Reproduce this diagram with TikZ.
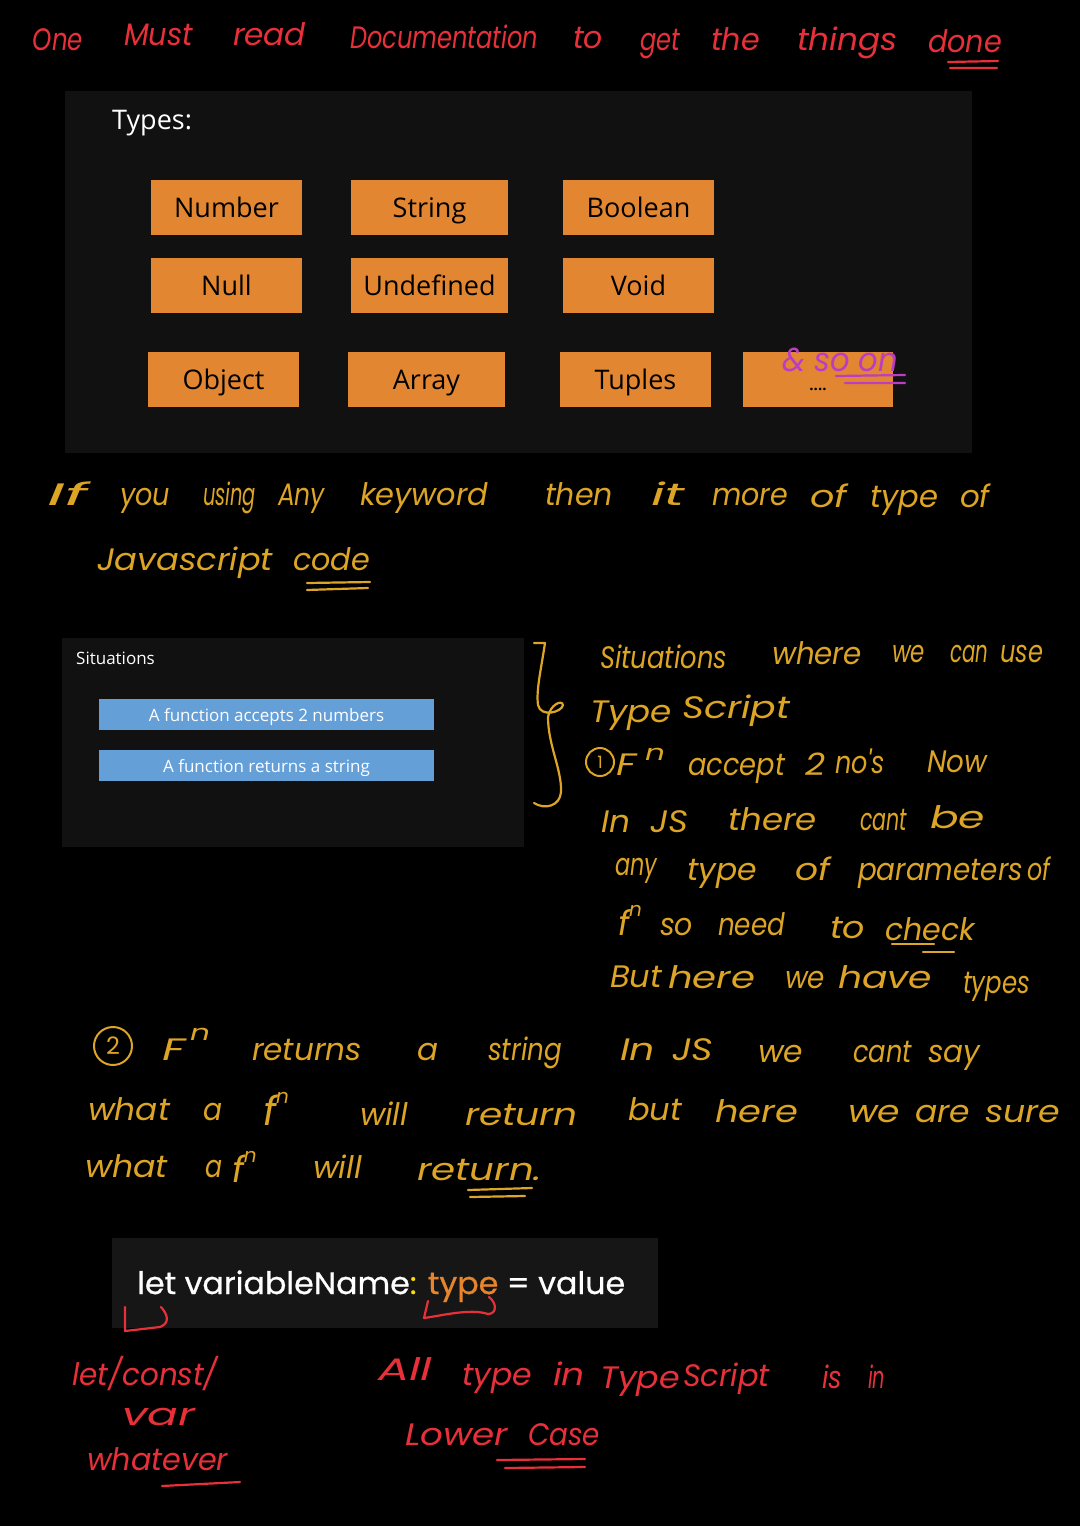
\documentclass[tikz,border=0pt]{standalone}
\usepackage{fontspec}
\usepackage{graphicx}
\setmainfont{Open Sans}
\newfontfamily\handfont{Poppins}
\newfontfamily\codefont{Poppins}[FakeBold=0.7]
\definecolor{inkred}{HTML}{E8303A}
\definecolor{inkyel}{HTML}{DDA526}
\definecolor{inkmag}{HTML}{BC3CC4}
\definecolor{panel}{HTML}{111111}
\definecolor{codebg}{HTML}{161616}
\definecolor{boxor}{HTML}{E38631}
\definecolor{boxbl}{HTML}{659FD8}
\newcounter{wordno}
% \Wz{size}{colour}{left x}{baseline y}{width}{text}
\newcommand{\Wz}[6]{\stepcounter{wordno}\node[word,text=#2] (w\arabic{wordno}) at (#3,#4)
  {\resizebox{#5pt}{\height}{\handfont\itshape\fontsize{#1}{#1}\selectfont #6}};}
\newcommand{\W}{\Wz{31}}
\newcommand{\fnW}[5]{\stepcounter{wordno}\node[word,text=#1] (w\arabic{wordno}) at (#2,#3)
  {\handfont\itshape\fontsize{#5}{#5}\selectfont f\raisebox{0.55em}{\fontsize{20}{20}\selectfont n}};}
\tikzset{
  word/.style={anchor=base west,inner sep=0pt,outer sep=0pt},
  ink/.style={line width=2.2pt,line cap=round,line join=round},
  panelbox/.style={fill=panel,draw=none},
  typebox/.style={fill=boxor,draw=none,text=black,inner sep=0pt,text height=25pt,text depth=6pt,font=\fontsize{27}{27}\selectfont},
  sitbox/.style={fill=boxbl,draw=none,text=white,inner sep=0pt,minimum width=335pt,minimum height=31pt,text height=18pt,text depth=4pt,font=\fontsize{17}{18}\selectfont},
}
\begin{document}
\begin{tikzpicture}[x=1pt,y=-1pt]
\fill[black] (0,0) rectangle (1080,1526);
\useasboundingbox (0,0) rectangle (1080,1526);
% panels
\node[panelbox,anchor=north west,minimum width=907pt,minimum height=362pt,inner sep=0pt] (typespanel) at (65,91) {};
\node[panelbox,anchor=north west,minimum width=462pt,minimum height=209pt,inner sep=0pt] (sitpanel) at (62,638) {};
\node[panelbox,anchor=north west,minimum width=546pt,minimum height=90pt,inner sep=0pt,fill=codebg] (codepanel) at (112,1238) {};
% types
\node[anchor=base west,text=white,inner sep=0pt,font=\fontsize{27}{27}\selectfont] (typeslabel) at (112,129) {Types:};
\foreach \n/\cx/\cy/\w/\t in {
  a/226.5/207.5/151/Number, b/429.5/207.5/157/String, c/638.5/207.5/151/Boolean,
  d/226.5/285.5/151/Null, e/429.5/285.5/157/Undefined, f/638.5/285.5/151/Void,
  g/223.5/379.5/151/Object, h/426.5/379.5/157/Array, i/635.5/379.5/151/Tuples}
  \node[typebox,minimum width=\w pt,minimum height=55pt] (\n) at (\cx,\cy) {\t};
\node[typebox,minimum width=150pt,minimum height=55pt,text height=0pt,text depth=0pt] (dots) at (818,379.5) {};
\node[text=black,inner sep=0pt,font=\bfseries\fontsize{15}{15}\selectfont,anchor=base] (dotstext) at (818,390) {....};
% situations
\node[anchor=base west,text=white,inner sep=0pt,font=\fontsize{17}{18}\selectfont] (sitlabel) at (76,664) {Situations};
\node[sitbox] (s1) at (266.5,714) {A function accepts 2 numbers};
\node[sitbox] (s2) at (266.5,765) {A function returns a string};
% code
\node[anchor=base west,text=white,inner sep=0pt,font=\codefont\fontsize{31}{31}\selectfont] (code) at (137,1294)
  {\resizebox{488pt}{\height}{let variableName\textcolor{yellow!80!orange}{:} \textcolor{boxor!90!orange}{type} = value}};
% heading
\W{inkred}{33}{50}{50}{One}
\W{inkred}{124}{45}{69}{Must}
\W{inkred}{233}{45}{73}{read}
\W{inkred}{350}{48}{188}{Documentation}
\W{inkred}{573}{48}{30}{to}
\W{inkred}{640}{50}{40}{get}
\W{inkred}{711}{50}{49}{the}
\W{inkred}{797}{50}{101}{things}
\W{inkred}{928}{52}{74}{done}
\draw[ink,inkred] (948,62) -- (998,61) (950,68) -- (997,68);
% & so on
\Wz{33}{inkmag}{782}{371}{116}{\& so on}
\draw[ink,inkmag] (836,376) -- (905,375) (845,383) -- (905,383);
% if you
\W{inkyel}{47}{505}{41}{If}
\W{inkyel}{120}{505}{50}{you}
\W{inkyel}{203}{505}{53}{using}
\W{inkyel}{278}{505}{47}{Any}
\W{inkyel}{360}{505}{128}{keyword}
\W{inkyel}{545}{505}{68}{then}
\W{inkyel}{651}{505}{34}{it}
\W{inkyel}{712}{505}{76}{more}
\W{inkyel}{810}{507}{37}{of}
\W{inkyel}{870}{507}{68}{type}
\W{inkyel}{960}{507}{30}{of}
\W{inkyel}{97}{570}{176}{Javascript}
\W{inkyel}{293}{570}{77}{code}
\draw[ink,inkyel] (307,583) -- (370,582) (307,590) -- (368,588);
% bracket
\draw[ink,inkyel] (534,643) -- (545,643) .. controls (541,670) and (536,690) .. (538,705)
  .. controls (541,718) and (562,712) .. (563,705) .. controls (562,699) and (550,705) .. (548,717)
  .. controls (548,745) and (562,770) .. (561,792) .. controls (560,806) and (545,810) .. (534,803);
% situations text
\W{inkyel}{600}{668}{127}{Situations}
\W{inkyel}{772}{664}{90}{where}
\W{inkyel}{892}{662}{33}{we}
\W{inkyel}{950}{662}{38}{can}
\W{inkyel}{1000}{662}{43}{use}
\W{inkyel}{590}{722}{82}{Type}
\W{inkyel}{682}{718}{108}{Script}
\node[draw=inkyel,line width=2pt,circle,minimum size=28pt,inner sep=0pt,text=inkyel,font=\handfont\fontsize{17}{17}\selectfont] (one) at (600,762) {1};
\W{inkyel}{616}{775}{20}{F}
\Wz{22}{inkyel}{645}{760}{20}{n}
\W{inkyel}{688}{775}{97}{accept}
\W{inkyel}{805}{775}{20}{2}
\W{inkyel}{835}{773}{50}{no's}
\W{inkyel}{927}{772}{60}{Now}
\W{inkyel}{601}{832}{29}{In}
\W{inkyel}{650}{832}{38}{JS}
\W{inkyel}{728}{830}{89}{there}
\W{inkyel}{860}{830}{47}{cant}
\W{inkyel}{930}{828}{55}{be}
\W{inkyel}{615}{875}{42}{any}
\W{inkyel}{687}{880}{70}{type}
\W{inkyel}{795}{880}{35}{of}
\W{inkyel}{858}{880}{165}{parameters}
\W{inkyel}{1027}{880}{23}{of}
\fnW{inkyel}{618}{935}{}{34}
\W{inkyel}{660}{935}{33}{so}
\W{inkyel}{718}{935}{67}{need}
\W{inkyel}{830}{938}{35}{to}
\W{inkyel}{885}{940}{90}{check}
\draw[ink,inkyel] (892,944) -- (934,944) (923,952) -- (954,952);
\W{inkyel}{610}{987}{52}{But}
\W{inkyel}{668}{988}{87}{here}
\W{inkyel}{785}{988}{40}{we}
\W{inkyel}{838}{988}{94}{have}
\W{inkyel}{963}{993}{67}{types}
% second block
\node[draw=inkyel,line width=2pt,circle,minimum size=38pt,inner sep=0pt,text=inkyel,font=\handfont\fontsize{24}{24}\selectfont] (two) at (113,1046) {2};
\W{inkyel}{162}{1060}{23}{F}
\Wz{22}{inkyel}{190}{1040}{20}{n}
\W{inkyel}{252}{1060}{110}{returns}
\W{inkyel}{417}{1060}{21}{a}
\W{inkyel}{488}{1060}{74}{string}
\W{inkyel}{620}{1060}{35}{In}
\W{inkyel}{672}{1060}{41}{JS}
\W{inkyel}{758}{1062}{45}{we}
\W{inkyel}{853}{1062}{59}{cant}
\W{inkyel}{928}{1062}{52}{say}
\W{inkyel}{88}{1120}{82}{what}
\W{inkyel}{203}{1120}{19}{a}
\fnW{inkyel}{263}{1125}{}{40}
\W{inkyel}{360}{1125}{48}{will}
\W{inkyel}{465}{1125}{113}{return}
\W{inkyel}{628}{1120}{54}{but}
\W{inkyel}{715}{1122}{83}{here}
\W{inkyel}{848}{1122}{52}{we}
\W{inkyel}{915}{1122}{55}{are}
\W{inkyel}{985}{1122}{75}{sure}
\W{inkyel}{85}{1177}{83}{what}
\W{inkyel}{205}{1177}{17}{a}
\fnW{inkyel}{232}{1182}{}{36}
\W{inkyel}{313}{1178}{49}{will}
\W{inkyel}{417}{1180}{125}{return.}
\draw[ink,inkyel] (468,1190) -- (532,1188) (470,1197) -- (525,1196);
% red notes
\draw[ink,inkred] (125,1307) -- (125,1331) -- (160,1327) .. controls (170,1323) and (168,1315) .. (161,1307);
\draw[ink,inkred] (428,1301) -- (424,1318) .. controls (440,1316) and (470,1308) .. (488,1314) .. controls (497,1314) and (497,1303) .. (489,1297);
\W{inkred}{72}{1385}{146}{let/const/}
\W{inkred}{122}{1425}{73}{var}
\W{inkred}{87}{1470}{141}{whatever}
\draw[ink,inkred] (162,1486) -- (240,1482);
\W{inkred}{378}{1380}{54}{All}
\W{inkred}{462}{1385}{70}{type}
\W{inkred}{553}{1385}{32}{in}
\W{inkred}{600}{1388}{80}{Type}
\W{inkred}{683}{1386}{87}{Script}
\W{inkred}{822}{1388}{20}{is}
\W{inkred}{868}{1388}{17}{in}
\W{inkred}{405}{1445}{103}{Lower}
\W{inkred}{528}{1445}{72}{Case}
\draw[ink,inkred] (497,1460) -- (585,1459) (505,1468) -- (585,1467);
\end{tikzpicture}
\end{document}
